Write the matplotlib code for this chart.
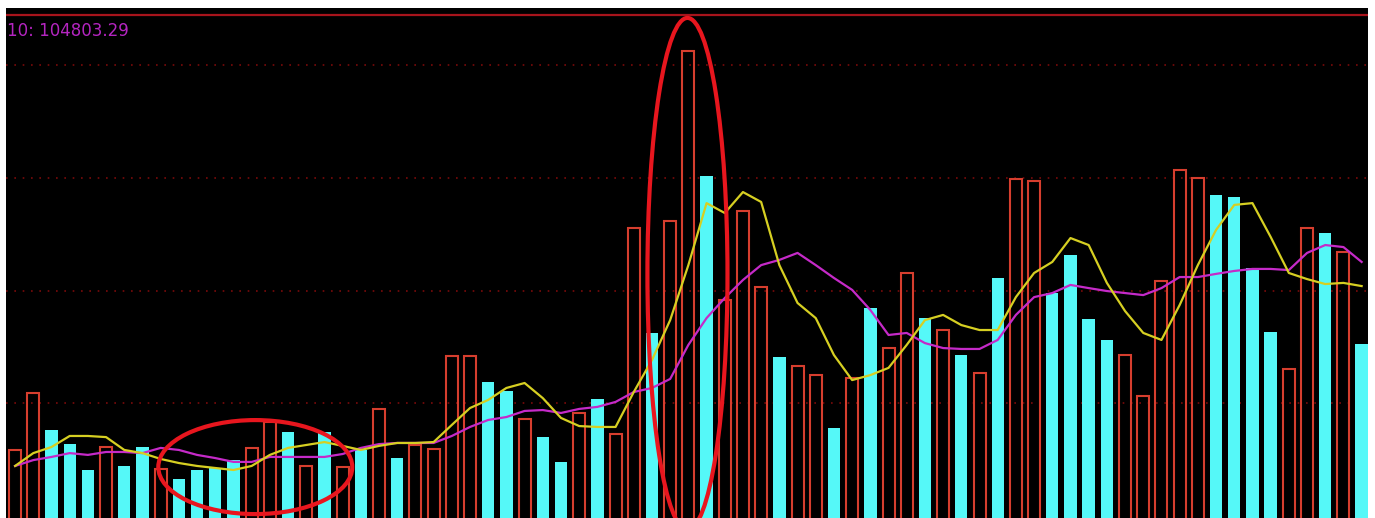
import matplotlib.pyplot as plt
from matplotlib.patches import Ellipse
import numpy as np

# volume bars (one per session)
volume = [29300, 54600, 38100, 31900, 20400, 30600, 22200, 30600, 20800, 16400,
          20400, 21300, 24800, 30200, 41700, 37300, 22200, 37300, 21700, 29300,
          47500, 25700, 31500, 29700, 71000, 71000, 59400, 55500, 43000, 35000,
          24000, 45700, 51900, 36400, 127800, 81200, 130900, 206300, 150800, 95800,
          135300, 101600, 70500, 66500, 62500, 39000, 61200, 92300, 74500, 107800,
          87800, 82500, 71400, 63400, 105600, 149500, 148600, 98900, 115800, 87400,
          78100, 71400, 53200, 104200, 153500, 149900, 142400, 141500, 110000, 81600,
          65200, 127800, 125500, 117100, 76300]
# 'r' = up day (hollow red), 'c' = down day (solid cyan)
kind = list("rrcccrccrccccrrcrcrcrcrrrrccrccrcrrcrrcrrrcrrcrcrrcrcrcrrccccrrrrrccccrrcrc")

ma5 = [22200, 27900, 30600, 35500, 35500, 35000, 29300, 27900, 25300, 23500,
       22200, 21300, 20400, 22200, 27100, 30200, 31500, 32800, 31100, 29300,
       31100, 32400, 32400, 32800, 40400, 47900, 51500, 56800, 59000, 52300,
       43500, 39900, 39500, 39500, 55000, 69200, 86900, 111300, 138800, 134400,
       143700, 139300, 111300, 94500, 87800, 71400, 60300, 62500, 65700, 75900,
       86900, 89200, 84700, 82500, 82500, 97100, 107800, 112700, 123300, 120200,
       103400, 90900, 81200, 78100, 93600, 111300, 126900, 138000, 138800, 123800,
       107800, 105100, 102900, 103400, 102000]
ma10 = [22200, 24800, 26200, 27900, 27100, 28400, 28400, 27900, 30200, 29300,
        27100, 25700, 24000, 24000, 26200, 26200, 26200, 26200, 27500, 30200,
        31900, 32400, 32400, 32400, 35500, 39500, 42600, 43900, 46600, 47000,
        45700, 47500, 48400, 50600, 55000, 56800, 60800, 75900, 87800, 96700,
        104700, 111300, 113600, 116700, 111300, 105600, 100300, 91400, 80300, 81200,
        76700, 74500, 74100, 74100, 78100, 89200, 97100, 98900, 102500, 101100,
        99800, 98900, 98000, 101100, 106000, 106000, 107400, 108700, 109600, 109600,
        109100, 116700, 120200, 119300, 112700]

label_text = "10: 104803.29"
grid_levels = [50000, 100000, 150000, 200000]

fig = plt.figure(figsize=(13.75, 5.18), dpi=100, facecolor="white")
ax = fig.add_axes([6 / 1375, 0, 1362 / 1375, 510 / 518])
ax.set_facecolor("black")

x = np.arange(len(volume))
vol = np.array(volume)
for lvl in grid_levels:
    ax.axhline(lvl, color="#7a0a0a", lw=1.2, ls=(0, (1, 4)), zorder=1)
ax.axhline(222250, color="#a8141c", lw=1.6, zorder=1)

# bars start a little under the visible bottom so their base runs off the panel
pad = 3000
up = x[[k == "r" for k in kind]]
dn = x[[k == "c" for k in kind]]
ax.bar(up, vol[up] + pad, bottom=-pad, width=0.66, facecolor="none",
       edgecolor="#d63e2e", lw=1.5, zorder=2)
ax.bar(dn, vol[dn] + pad, bottom=-pad, width=0.68, color="#55f8f8", lw=0, zorder=2)

ax.plot(x, ma10, color="#c52ac8", lw=1.6, zorder=3)
ax.plot(x, ma5, color="#d6cf22", lw=1.6, zorder=4)

# hand-drawn style highlight rings
ax.add_patch(Ellipse((13.2, 21700), 10.66, 41700, fill=False,
                     edgecolor="#e8161e", lw=3, zorder=5))
ax.add_patch(Ellipse((36.95, 107400), 4.4, 227100, fill=False,
                     edgecolor="#e8161e", lw=3, zorder=5))

ax.set_xlim(-0.5, 74.35)
ax.set_ylim(-887, 225350)
ax.set_xticks([])
ax.set_yticks([])
for s in ax.spines.values():
    s.set_visible(False)

fig.text(7 / 1375, 1 - 31 / 518, label_text, color="#b425c0", fontsize=12,
         va="center", ha="left")

fig.savefig("out.png", dpi=100, facecolor="white")
